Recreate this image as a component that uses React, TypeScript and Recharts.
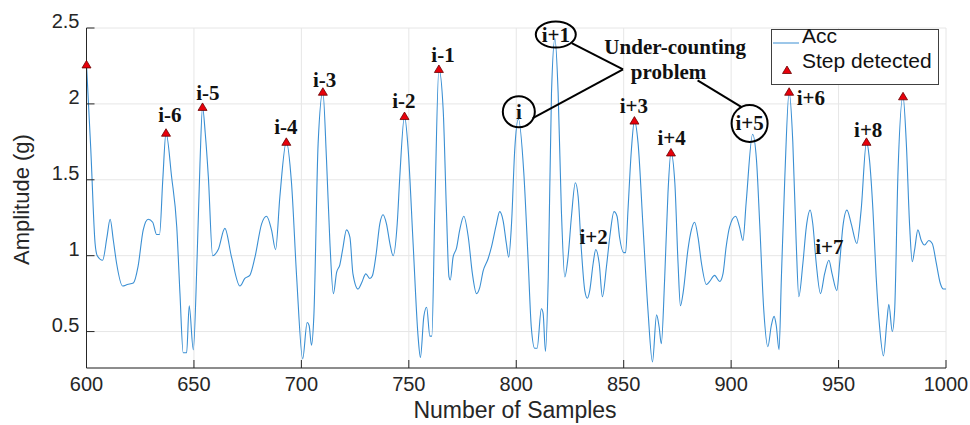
import {
  ComposedChart,
  Line,
  Scatter,
  XAxis,
  YAxis,
  CartesianGrid,
  Legend,
  ReferenceDot,
  ReferenceLine,
} from "recharts";

// accelerometer magnitude
const accSamples = [
  600, 602, 604, 605, 607.5, 609.5, 611, 612.5, 614, 616.8, 619, 621.8, 624, 626.4, 628.7, 630.8,
  632.6, 634, 635.5, 637, 639.6, 642, 643.5, 645, 646.6, 647.8, 649.7, 651.5, 652.8, 654, 655.3,
  656.7, 658.7, 661.3, 664.4, 667.5, 671.4, 673.7, 676, 678.4, 681.5, 683.8, 686.1, 688, 690, 693,
  695.4, 697.8, 700.6, 702.7, 703.6, 704.7, 705.8, 707.8, 710, 711.7, 713.3, 714.9, 716.4, 717.9,
  719.2, 721, 722.6, 724, 726.4, 728, 730, 731.9, 733.1, 734.7, 736.5, 738, 739.6, 741.2, 742.7,
  744.6, 745.8, 748, 749.7, 752, 754.3, 755.4, 757, 758.3, 759.8, 760.7, 762.1, 764, 766, 767.5,
  768.7, 769.3, 770.6, 772.2, 773.7, 775.6, 777.7, 779.6, 781.5, 783, 784.6, 786.9, 788.5, 790.8,
  792.3, 793.9, 795.4, 796.5, 797.8, 799.3, 801, 803.5, 805.5, 807, 808.6, 809.7, 811.7, 812.5,
  813.6, 814.9, 816.4, 818, 819.5, 821, 822.6, 824.1, 825.7, 827.5, 828.8, 830.3, 831.9, 833.1,
  834.2, 835.8, 837, 838.6, 840.1, 842, 843.5, 845.5, 846.9, 848.1, 850, 850.9, 852, 853.6, 855,
  856.7, 859, 861.3, 863.4, 865.3, 866.5, 867.5, 869.1, 870.6, 872, 873.8, 875.3, 876.4, 877.7,
  879.9, 881.5, 883, 884.6, 886.2, 888.5, 890, 892.3, 894.7, 896.2, 897.7, 899.3, 902.1, 903.9,
  905.5, 907, 910, 911.8, 913.3, 915.2, 917.1, 918.7, 920, 921, 922.3, 923.4, 925, 927, 928.7,
  930.3, 931.5, 933.4, 935, 936.8, 938, 939.6, 941.6, 943.5, 945.5, 947, 949.2, 950.5, 952, 953.9,
  955.9, 958.5, 960.5, 963, 964.4, 966, 967.5, 969.1, 970.9, 972.5, 973.4, 975, 976.1, 977.6, 980,
  981.5, 983.1, 984.3, 985.4, 986.9, 988.5, 990, 992, 993.6, 995.5, 997.3, 998.8, 1000,
];
const accValues = [
  2.26, 1.7, 1.08, 1.0, 0.97, 1.12, 1.24, 1.1, 0.95, 0.8, 0.81, 0.82, 0.93, 1.17, 1.24, 1.22,
  1.14, 1.14, 1.5, 1.81, 1.52, 1.19, 0.75, 0.36, 0.36, 0.67, 0.38, 1.0, 1.6, 1.98, 1.8,
  1.52, 1.0, 1.04, 1.18, 0.99, 0.8, 0.85, 0.87, 0.99, 1.21, 1.26, 1.17, 1.04, 1.39, 1.75,
  1.48, 0.86, 0.32, 0.56, 0.54, 0.41, 0.6, 1.74, 2.08, 1.63, 1.08, 0.75, 0.89, 0.94,
  1.04, 1.17, 1.12, 0.88, 0.78, 0.82, 0.88, 0.85, 0.87, 1.0, 1.21, 1.27, 1.21, 1.08, 1.0,
  1.21, 1.52, 1.92, 1.7, 1.08, 0.47, 0.33, 0.6, 0.66, 0.47, 0.47, 1.3, 2.23, 1.96, 1.3,
  0.86, 0.84, 0.99, 1.05, 1.17, 1.26, 1.12, 0.88, 0.75, 0.79, 0.9, 0.98, 1.06, 1.21,
  1.29, 1.23, 1.08, 0.99, 1.21, 1.7, 1.9, 1.55, 0.98, 0.53, 0.39, 0.39, 0.65, 0.62,
  0.37, 0.86, 2.07, 2.43, 2.07, 1.3, 0.86, 0.99, 1.26, 1.48, 1.39, 1.04, 0.77, 0.72,
  0.77, 0.95, 1.04, 0.95, 0.73, 0.93, 1.12, 1.29, 1.26, 1.12, 1.02, 1.02, 1.3, 1.7, 1.89,
  1.74, 1.19, 0.64, 0.3, 0.61, 0.53, 0.42, 0.86, 1.41, 1.68, 1.48, 0.95, 0.67, 0.76,
  1.04, 1.17, 1.22, 1.12, 0.95, 0.81, 0.83, 0.87, 0.83, 0.88, 1.06, 1.19, 1.26, 1.19,
  1.1, 1.35, 1.8, 1.63, 1.21, 0.64, 0.4, 0.54, 0.6, 0.54, 0.38, 0.86, 1.52, 2.08, 1.75,
  1.08, 0.73, 0.95, 1.19, 1.3, 1.21, 0.95, 0.75, 0.88, 0.97, 0.88, 0.77, 0.95, 1.19, 1.3,
  1.21, 1.08, 1.3, 1.75, 1.63, 1.3, 0.86, 0.53, 0.34, 0.57, 0.68, 0.5, 0.64, 1.52, 2.05,
  1.75, 1.19, 0.96, 1.04, 1.17, 1.1, 1.07, 1.1, 1.08, 0.95, 0.82, 0.78, 0.78,
];

// detected steps (red triangles)
const stepSamples = [600, 637, 654, 693, 710, 748, 764, 855, 872, 927, 963, 980];
const stepValues = [2.26, 1.81, 1.98, 1.75, 2.08, 1.92, 2.23, 1.89, 1.68, 2.08, 1.75, 2.05];

const xTicks = [600, 650, 700, 750, 800, 850, 900, 950, 1000];
const yTicks = [0.5, 1, 1.5, 2, 2.5];

// annotation text anchored in data coordinates
const peakLabels = [
  { text: "i-6", x: 638.8, y: 1.926 },
  { text: "i-5", x: 656.5, y: 2.071 },
  { text: "i-4", x: 692.8, y: 1.847 },
  { text: "i-3", x: 710.8, y: 2.155 },
  { text: "i-2", x: 747.7, y: 2.018 },
  { text: "i-1", x: 765.9, y: 2.322 },
  { text: "i+3", x: 854.7, y: 1.985 },
  { text: "i+4", x: 872.3, y: 1.778 },
  { text: "i+6", x: 937.1, y: 2.042 },
  { text: "i+8", x: 963.8, y: 1.827 },
  { text: "i+2", x: 836.0, y: 1.123 },
  { text: "i+7", x: 945.7, y: 1.06 },
];
const circledLabels = [
  { text: "i", x: 801.2, y: 1.948, rx: 16, ry: 15.5 },
  { text: "i+1", x: 818.4, y: 2.457, rx: 20, ry: 13 },
  { text: "i+5", x: 908.6, y: 1.871, rx: 18, ry: 18.5 },
];
const pointerLines = [
  [{ x: 825.8, y: 2.401 }, { x: 849.7, y: 2.228 }],
  [{ x: 807.7, y: 1.906 }, { x: 849.7, y: 2.228 }],
  [{ x: 884.4, y: 2.155 }, { x: 904.7, y: 1.981 }],
];

const accData = accSamples.map((x, i) => ({ x, y: accValues[i] }));
const stepData = stepSamples.map((x, i) => ({ x, y: stepValues[i] }));

const PLOT_LEFT = 86.5;
const PLOT_RIGHT = 946;
const PLOT_TOP = 28;
const PLOT_BOTTOM = 368;
const AXIS = "#262626";
const ACC = "#3a8fd3";
const SANS = "'Liberation Sans', Arial, sans-serif";
const SERIF = "'Liberation Serif', 'Times New Roman', serif";

const Triangle = ({ cx, cy }: any) => (
  <polygon
    points={`${cx - 4.5},${cy + 3.5} ${cx + 4.5},${cy + 3.5} ${cx},${cy - 4}`}
    fill="#e8000b"
    stroke="#6a0000"
    strokeWidth={0.8}
  />
);

const BottomTick = ({ x, payload }: any) => (
  <g>
    <line x1={x} x2={x} y1={PLOT_BOTTOM} y2={PLOT_BOTTOM - 8} stroke={AXIS} />
    <text x={x} y={PLOT_BOTTOM + 16} textAnchor="middle" dominantBaseline="central"
      fontFamily={SANS} fontSize={20} fill={AXIS}>
      {payload.value}
    </text>
  </g>
);
const TopTick = ({ x }: any) => (
  <line x1={x} x2={x} y1={PLOT_TOP} y2={PLOT_TOP + 8} stroke={AXIS} />
);
const LeftTick = ({ y, payload }: any) => (
  <g>
    <line x1={PLOT_LEFT} x2={PLOT_LEFT + 8} y1={y} y2={y} stroke={AXIS} />
    <text x={PLOT_LEFT - 7} y={y - 7} textAnchor="end" dominantBaseline="central"
      fontFamily={SANS} fontSize={20} fill={AXIS}>
      {payload.value}
    </text>
  </g>
);
const RightTick = ({ y }: any) => (
  <line x1={PLOT_RIGHT} x2={PLOT_RIGHT - 8} y1={y} y2={y} stroke={AXIS} />
);

const XTitle = () => (
  <text x={515} y={410} textAnchor="middle" dominantBaseline="central"
    fontFamily={SANS} fontSize={23} fill={AXIS}>
    Number of Samples
  </text>
);
const YTitle = () => (
  <text x={21.7} y={199.5} transform="rotate(-90 21.7 199.5)" textAnchor="middle"
    dominantBaseline="central" fontFamily={SANS} fontSize={22} fill={AXIS}>
    Amplitude (g)
  </text>
);

const LegendBox = () => (
  <svg width={168} height={56} style={{ display: "block", overflow: "visible" }}>
    <rect x={0.5} y={0.5} width={167} height={55} fill="#fff" stroke="#404040" />
    <line x1={2} x2={28} y1={14} y2={14} stroke={ACC} strokeWidth={1} />
    <text x={31} y={6} dominantBaseline="central" fontFamily={SANS} fontSize={21} fill="#111">
      Acc
    </text>
    <Triangle cx={16} cy={41} />
    <text x={31} y={31} dominantBaseline="central" fontFamily={SANS} fontSize={21} fill="#111">
      Step detected
    </text>
  </svg>
);

const boldText = (text: string) => (p: any) => (
  <text x={p.cx} y={p.cy} textAnchor="middle" dominantBaseline="central"
    fontFamily={SERIF} fontWeight="bold" fontSize={21} fill="#111">
    {text}
  </text>
);

const circledText = (text: string, rx: number, ry: number) => (p: any) => (
  <g>
    <ellipse cx={p.cx} cy={p.cy} rx={rx} ry={ry} fill="none" stroke="#000" strokeWidth={2} />
    <text x={p.cx} y={p.cy} textAnchor="middle" dominantBaseline="central"
      fontFamily={SERIF} fontWeight="bold" fontSize={21} fill="#111">
      {text}
    </text>
  </g>
);

export default function App() {
  return (
    <div style={{ position: "absolute", left: 0, top: 0, width: 970, height: 425, background: "#fff" }}>
      <ComposedChart width={970} height={425} margin={{ top: PLOT_TOP, right: 970 - PLOT_RIGHT, bottom: 0, left: 0 }}>
        <CartesianGrid stroke="#e6e6e6" strokeWidth={1} />
        <XAxis
          type="number"
          dataKey="x"
          domain={[600, 1000]}
          ticks={xTicks}
          height={425 - PLOT_BOTTOM}
          axisLine={{ stroke: AXIS }}
          tickLine={false}
          tick={(p: any) => <BottomTick {...p} />}
          label={<XTitle />}
        />
        <XAxis
          xAxisId="top"
          orientation="top"
          type="number"
          domain={[600, 1000]}
          ticks={xTicks}
          height={0}
          axisLine={{ stroke: AXIS }}
          tickLine={false}
          tick={(p: any) => <TopTick {...p} />}
        />
        <YAxis
          type="number"
          domain={[0.26, 2.5]}
          ticks={yTicks}
          width={PLOT_LEFT}
          axisLine={{ stroke: AXIS }}
          tickLine={false}
          tick={(p: any) => <LeftTick {...p} />}
          label={<YTitle />}
        />
        <YAxis
          yAxisId="right"
          orientation="right"
          type="number"
          domain={[0.26, 2.5]}
          ticks={yTicks}
          width={0}
          axisLine={{ stroke: AXIS }}
          tickLine={false}
          tick={(p: any) => <RightTick {...p} />}
        />
        <Line
          data={accData}
          dataKey="y"
          type="monotone"
          stroke={ACC}
          strokeWidth={1.1}
          dot={false}
          activeDot={false}
          isAnimationActive={false}
        />
        <Scatter
          data={stepData}
          dataKey="y"
          shape={(p: any) => <Triangle cx={p.cx} cy={p.cy} />}
          isAnimationActive={false}
        />
        {pointerLines.map((seg, i) => (
          <ReferenceLine key={`seg${i}`} segment={seg} stroke="#000" strokeWidth={2} ifOverflow="visible" />
        ))}
        {peakLabels.map((l) => (
          <ReferenceDot key={l.text} x={l.x} y={l.y} r={0} ifOverflow="visible" shape={boldText(l.text)} />
        ))}
        {circledLabels.map((l) => (
          <ReferenceDot key={l.text} x={l.x} y={l.y} r={0} ifOverflow="visible"
            shape={circledText(l.text, l.rx, l.ry)} />
        ))}
        <ReferenceDot x={873.95} y={2.377} r={0} ifOverflow="visible" shape={boldText("Under-counting")} />
        <ReferenceDot x={870.9} y={2.212} r={0} ifOverflow="visible" shape={boldText("problem")} />
        <Legend
          layout="vertical"
          align="center"
          verticalAlign="middle"
          content={() => <LegendBox />}
          wrapperStyle={{ position: "absolute", left: 771, top: 29, right: "auto", bottom: "auto", width: 168, height: 56, margin: 0, padding: 0 }}
        />
      </ComposedChart>
    </div>
  );
}
